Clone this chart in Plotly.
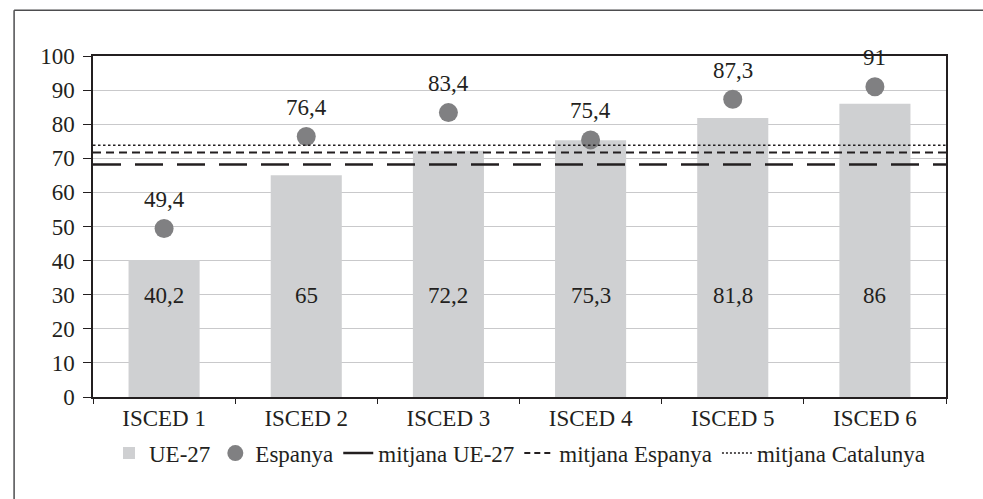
import plotly.graph_objects as go

# ISCED levels and employment rates (%)
categories = ["ISCED 1", "ISCED 2", "ISCED 3", "ISCED 4", "ISCED 5", "ISCED 6"]
ue27 = [40.2, 65, 72.2, 75.3, 81.8, 86]
espanya = [49.4, 76.4, 83.4, 75.4, 87.3, 91]

# Averages
mitjana_ue27 = 68.2
mitjana_espanya = 71.7
mitjana_catalunya = 73.8

y_ticks = [0, 10, 20, 30, 40, 50, 60, 70, 80, 90, 100]

FONT = "Liberation Serif, Times New Roman, serif"
FS = 23
TXT = "#231f20"
BAR_C = "#cfd0d2"
DOT_C = "#808082"
LINE_C = "#231f20"


def fmt(v):
    return f"{v:g}".replace(".", ",")


fig = go.Figure()

fig.add_trace(go.Bar(
    x=categories, y=ue27, name="UE-27",
    marker=dict(color=BAR_C, line=dict(width=0)),
    width=0.5,
))
fig.add_trace(go.Scatter(
    x=categories, y=espanya, name="Espanya", mode="markers",
    marker=dict(color=DOT_C, size=19, symbol="circle"),
))

# Legend entries for the average lines (lines themselves are shapes)
fig.add_trace(go.Scatter(
    x=[None], y=[None], mode="lines", name="mitjana UE-27",
    line=dict(color=LINE_C, width=2.5),
))
fig.add_trace(go.Scatter(
    x=[None], y=[None], mode="lines", name="mitjana Espanya",
    line=dict(color=LINE_C, width=2, dash="6px,4px"),
))
fig.add_trace(go.Scatter(
    x=[None], y=[None], mode="lines", name="mitjana Catalunya",
    line=dict(color=LINE_C, width=1.5, dash="2px,2px"),
))

shapes = [
    dict(type="line", xref="x domain", yref="y", x0=0, x1=1,
         y0=mitjana_ue27, y1=mitjana_ue27,
         line=dict(color=LINE_C, width=2.5, dash="28px,14px"), layer="above"),
    dict(type="line", xref="x domain", yref="y", x0=0, x1=1,
         y0=mitjana_espanya, y1=mitjana_espanya,
         line=dict(color=LINE_C, width=2, dash="8px,5px"), layer="above"),
    dict(type="line", xref="x domain", yref="y", x0=0, x1=1,
         y0=mitjana_catalunya, y1=mitjana_catalunya,
         line=dict(color=LINE_C, width=1.5, dash="2.5px,2.5px"), layer="above"),
    # outer frame: left edge and top edge
    dict(type="line", xref="paper", yref="paper",
         x0=-0.0925, x1=-0.0925, y0=-0.3, y1=1.1345,
         line=dict(color="#4d4d4f", width=1.5), layer="below"),
    dict(type="line", xref="paper", yref="paper",
         x0=-0.0925, x1=1.05, y0=1.1345, y1=1.1345,
         line=dict(color="#4d4d4f", width=1.5), layer="below"),
]

annotations = []
for c, v in zip(categories, ue27):
    annotations.append(dict(x=c, y=29.8, text=fmt(v), showarrow=False,
                            font=dict(family=FONT, size=FS, color=TXT)))
for c, v in zip(categories, espanya):
    annotations.append(dict(x=c, y=v, yshift=29, text=fmt(v), showarrow=False,
                            font=dict(family=FONT, size=FS, color=TXT)))

fig.update_layout(
    width=983, height=499,
    margin=dict(l=93, r=37, t=56, b=102, autoexpand=False),
    paper_bgcolor="white", plot_bgcolor="white",
    font=dict(family=FONT, size=FS, color=TXT),
    showlegend=True,
    legend=dict(orientation="h", x=0.5, xanchor="center",
                yref="container", y=0.092, yanchor="middle",
                font=dict(family=FONT, size=FS, color=TXT),
                itemwidth=30, tracegroupgap=0, traceorder="normal"),
    shapes=shapes,
    annotations=annotations,
    bargap=0.5,
)

fig.update_xaxes(
    type="category", showgrid=False,
    showline=True, linecolor="#231f20", linewidth=1.5, mirror=True,
    ticks="outside", tickson="boundaries", ticklen=5, tickcolor="#231f20",
    tickfont=dict(family=FONT, size=FS, color=TXT),
)
fig.update_yaxes(
    range=[0, 100], tickvals=y_ticks,
    showgrid=True, gridcolor="#c9c9cb", gridwidth=1,
    showline=True, linecolor="#231f20", linewidth=1.5, mirror=True,
    ticks="outside", ticklen=8, tickcolor="#231f20", ticklabelstandoff=4,
    tickfont=dict(family=FONT, size=FS, color=TXT),
    zeroline=False,
)

fig.write_html(
    "out.html",
    config={"displayModeBar": False},
    post_script="document.body.style.margin='0';document.body.style.overflow='hidden';",
)
